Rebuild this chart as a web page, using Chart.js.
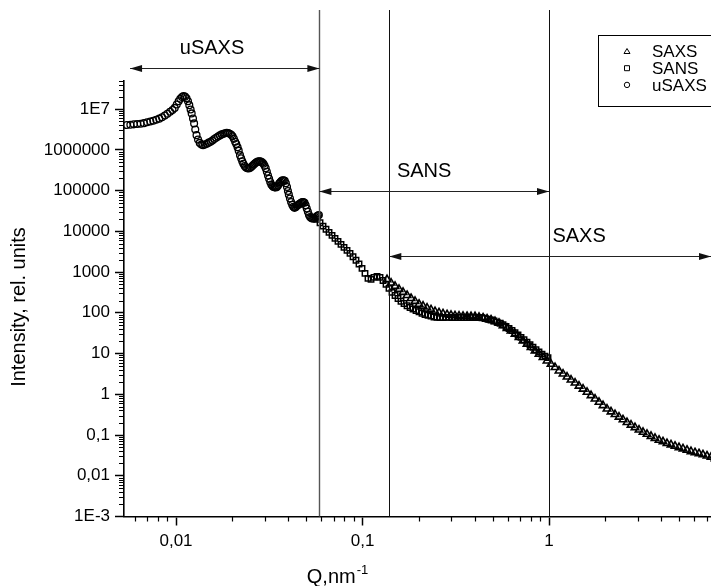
<!DOCTYPE html>
<html>
<head>
<meta charset="utf-8">
<script src="https://cdn.jsdelivr.net/npm/chart.js@4.4.0/dist/chart.umd.min.js"></script>
<style>
  html, body { margin: 0; padding: 0; background: #fff; overflow: hidden; }
  #wrap { width: 760px; height: 586px; }
</style>
</head>
<body>
<div id="wrap"><canvas id="c" width="760" height="586"></canvas></div>
<script>
// ---- data: scattering vector Q (nm^-1) and intensity (rel. units) ----
const usaxsQ = [0.00544,0.00569,0.00594,0.00619,0.00646,0.00673,0.00700,0.00728,0.00755,0.00783,0.00813,0.00841,0.00871,0.00899,0.00929,0.00957,0.00984,0.01009,0.01033,0.01054,0.01076,0.01096,0.01117,0.01138,0.01159,0.01178,0.01197,0.01213,0.01233,0.01250,0.01268,0.01288,0.01312,0.01340,0.01368,0.01396,0.01429,0.01462,0.01496,0.01531,0.01567,0.01603,0.01641,0.01679,0.01718,0.01758,0.01795,0.01832,0.01871,0.01905,0.01941,0.01977,0.02009,0.02042,0.02075,0.02104,0.02138,0.02168,0.02203,0.02234,0.02265,0.02296,0.02333,0.02371,0.02410,0.02449,0.02489,0.02529,0.02570,0.02612,0.02655,0.02698,0.02742,0.02786,0.02825,0.02864,0.02904,0.02944,0.02985,0.03027,0.03069,0.03112,0.03155,0.03199,0.03243,0.03289,0.03334,0.03381,0.03428,0.03475,0.03524,0.03573,0.03622,0.03673,0.03724,0.03776,0.03828,0.03882,0.03936,0.03981,0.04027,0.04083,0.04140,0.04198,0.04256,0.04315,0.04375,0.04436,0.04498,0.04560,0.04624,0.04688,0.04753,0.04819,0.04887,0.04955,0.05023,0.05093,0.05164,0.05236,0.05309,0.05383,0.05458,0.05534,0.05610,0.05689,0.05768,0.05834];
const usaxsI = [4.05e6,4.12e6,4.22e6,4.29e6,4.37e6,4.52e6,4.73e6,4.95e6,5.15e6,5.47e6,5.82e6,6.31e6,6.92e6,7.67e6,8.61e6,9.44e6,1.07e7,1.29e7,1.55e7,1.78e7,1.97e7,2.09e7,2.02e7,1.84e7,1.55e7,1.25e7,9.77e6,7.83e6,5.89e6,4.45e6,3.16e6,2.29e6,1.78e6,1.48e6,1.35e6,1.30e6,1.35e6,1.41e6,1.50e6,1.58e6,1.70e6,1.84e6,1.97e6,2.11e6,2.26e6,2.39e6,2.48e6,2.56e6,2.60e6,2.58e6,2.48e6,2.34e6,2.14e6,1.86e6,1.58e6,1.38e6,1.15e6,9.55e5,7.40e5,6.17e5,5.25e5,4.57e5,3.98e5,3.67e5,3.53e5,3.48e5,3.59e5,3.80e5,4.07e5,4.37e5,4.66e5,4.93e5,5.13e5,5.25e5,5.22e5,5.07e5,4.84e5,4.57e5,4.07e5,3.51e5,2.88e5,2.34e5,1.95e5,1.62e5,1.40e5,1.29e5,1.23e5,1.20e5,1.19e5,1.23e5,1.33e5,1.48e5,1.60e5,1.71e5,1.78e5,1.79e5,1.74e5,1.51e5,1.22e5,9.77e4,7.94e4,6.37e4,5.25e4,4.47e4,3.98e4,3.76e4,3.89e4,4.17e4,4.42e4,4.57e4,4.79e4,5.01e4,5.19e4,5.25e4,5.01e4,4.37e4,3.61e4,3.02e4,2.51e4,2.24e4,2.11e4,2.07e4,2.05e4,2.09e4,2.21e4,2.34e4,2.45e4,2.51e4];

const sansQ = [0.05702,0.05917,0.06141,0.06372,0.06613,0.06863,0.07120,0.07389,0.07668,0.07958,0.08258,0.08570,0.08894,0.09228,0.09576,0.09938,0.1031,0.1070,0.1111,0.1152,0.1196,0.1241,0.1288,0.1337,0.1387,0.1439,0.1494,0.1550,0.1608,0.1669,0.1733,0.1798,0.1865,0.1936,0.2009,0.2084,0.2163,0.2245,0.2330,0.2417,0.2508,0.2603,0.2702,0.2803,0.2909,0.3019,0.3133,0.3252,0.3374,0.3501,0.3634,0.3771,0.3913,0.4061,0.4214,0.4374,0.4538,0.4709,0.4887,0.5071,0.5263,0.5462,0.5667,0.5880,0.6103,0.6333,0.6572,0.6821,0.7077,0.7345,0.7621,0.7909,0.8207,0.8517,0.8838,0.9173,0.9519,0.9877];
const sansI = [1.97e4,1.62e4,1.34e4,1.12e4,9440,7960,6710,5680,4790,4040,3400,2870,2370,1950,1580,1230,927,698,659,738,782,738,622,497,396,316,266,225,192,169,149,135,124,114,106,97.7,90.8,86.9,83.0,78.9,77.0,76.6,76.8,77.2,76.9,76.5,76.7,77.1,76.8,76.4,76.6,76.9,76.5,76.2,76.0,75.3,72.4,69.6,66.5,62.8,59.0,55.2,50.7,46.0,41.1,36.7,32.4,28.4,24.9,21.8,18.9,16.4,14.3,12.4,10.9,9.70,8.66,7.96];

const saxsQ = [0.1353,0.1422,0.1494,0.1569,0.1649,0.1733,0.1820,0.1912,0.2009,0.2111,0.2218,0.2330,0.2448,0.2572,0.2702,0.2839,0.2982,0.3133,0.3292,0.3459,0.3634,0.3818,0.4011,0.4214,0.4428,0.4652,0.4887,0.5135,0.5394,0.5667,0.5954,0.6255,0.6572,0.6904,0.7254,0.7621,0.8007,0.8412,0.8838,0.9286,0.9756,1.025,1.077,1.131,1.189,1.249,1.312,1.379,1.448,1.522,1.599,1.680,1.765,1.854,1.948,2.046,2.150,2.259,2.373,2.493,2.619,2.752,2.891,3.038,3.192,3.353,3.523,3.701,3.889,4.086,4.292,4.510,4.738,4.978,5.230,5.494,5.772,6.065,6.372,6.694,7.033,7.389,7.763,8.156,8.569,9.003,9.460,9.938];
const saxsI = [659,543,449,378,319,269,227,192,164,147,132,119,108,101,95.1,90.4,87.7,85.3,83.4,83.0,82.0,81.5,81.1,78.4,75.3,71.1,67.3,61.4,55.8,48.7,41.8,36.1,30.1,24.9,20.6,17.1,14.2,11.7,9.70,8.05,6.64,5.51,4.57,3.77,3.16,2.67,2.25,1.90,1.60,1.35,1.13,0.935,0.771,0.640,0.531,0.438,0.374,0.321,0.277,0.238,0.204,0.176,0.153,0.134,0.118,0.105,0.0933,0.0834,0.0753,0.0687,0.0624,0.0577,0.0536,0.0495,0.0460,0.0428,0.0394,0.0371,0.0351,0.0331,0.0309,0.0287,0.0265,0.0249,0.0236,0.0223,0.0209,0.0199];

// ---- axis ticks ----
const xTickValues = [0.01, 0.1, 1];
const xTickLabels = ['0,01', '0,1', '1'];
const yTickValues = [1e-3, 1e-2, 1e-1, 1, 10, 100, 1e3, 1e4, 1e5, 1e6, 1e7];
const yTickLabels = ['1E-3', '0,01', '0,1', '1', '10', '100', '1000', '10000', '100000', '1000000', '1E7'];

// ---- measurement ranges of the three instruments ----
const rangeNames = ['uSAXS', 'SANS', 'SAXS'];
const rangeFrom = [0.00567, 0.0587, 0.1392];
const rangeTo = [0.0587, 1, 7.39];
const rangeLevel = [1.04e8, 1.0e5, 2.43e3];      // intensity at which each arrow is drawn
const rangeLabelQ = [0.0156, 0.214, 1.45];       // label centre along Q
const boundaries = [0.0587, 0.1392, 1];

const FONT = '"Liberation Sans", Arial, Helvetica, sans-serif';
const INK = '#000';

function pts(q, I) { return q.map((v, i) => ({ x: v, y: I[i] })); }

const overlay = {
  id: 'overlay',
  afterDraw(chart) {
    const ctx = chart.ctx;
    const xs = chart.scales.x, ys = chart.scales.y;
    const area = chart.chartArea;
    ctx.save();

    // minor ticks (2..9 within each decade)
    ctx.strokeStyle = INK;
    ctx.lineWidth = 1.2;
    ctx.beginPath();
    for (let e = -3; e <= 1; e++) {
      for (let m = 2; m <= 9; m++) {
        const v = m * Math.pow(10, e);
        if (v < xs.min || v > xs.max) continue;
        const px = Math.round(xs.getPixelForValue(v)) + 0.5;
        ctx.moveTo(px, area.bottom);
        ctx.lineTo(px, area.bottom + 5);
      }
    }
    for (let e = -3; e <= 7; e++) {
      for (let m = 2; m <= 9; m++) {
        const v = m * Math.pow(10, e);
        if (v < ys.min || v > ys.max) continue;
        const py = Math.round(ys.getPixelForValue(v)) + 0.5;
        ctx.moveTo(area.left, py);
        ctx.lineTo(area.left - 5, py);
      }
    }
    ctx.stroke();

    // range boundaries
    boundaries.forEach((q, i) => {
      const px = Math.round(xs.getPixelForValue(q)) + 0.5;
      ctx.strokeStyle = i === 0 ? '#555' : '#111';
      ctx.lineWidth = i === 0 ? 1.4 : 1;
      ctx.beginPath();
      ctx.moveTo(px, 10);
      ctx.lineTo(px, area.bottom);
      ctx.stroke();
    });

    // double-headed arrows with range names
    const head = (x, y, dir) => {
      ctx.beginPath();
      ctx.moveTo(x, y);
      ctx.lineTo(x + dir * 12, y - 3.5);
      ctx.lineTo(x + dir * 12, y + 3.5);
      ctx.closePath();
      ctx.fill();
    };
    ctx.fillStyle = '#111';
    ctx.strokeStyle = '#222';
    ctx.lineWidth = 1;
    ctx.font = '20px ' + FONT;
    ctx.textAlign = 'center';
    ctx.textBaseline = 'middle';
    rangeNames.forEach((name, i) => {
      const x1 = xs.getPixelForValue(rangeFrom[i]);
      const x2 = xs.getPixelForValue(rangeTo[i]);
      const y = Math.round(ys.getPixelForValue(rangeLevel[i])) + 0.5;
      ctx.beginPath();
      ctx.moveTo(x1, y);
      ctx.lineTo(x2, y);
      ctx.stroke();
      head(x1, y, 1);
      head(x2, y, -1);
      ctx.fillStyle = INK;
      ctx.fillText(name, xs.getPixelForValue(rangeLabelQ[i]), y - 20);
      ctx.fillStyle = '#111';
    });

    // legend box
    const lx = 598.5, ly = 35.5;
    ctx.strokeStyle = INK;
    ctx.lineWidth = 1;
    ctx.strokeRect(lx, ly, 140, 71);
    ctx.font = '17px ' + FONT;
    ctx.textAlign = 'left';
    chart.data.datasets.forEach((ds, i) => {
      const cy = 51.5 + i * 16.7;
      const cx = 627;
      ctx.beginPath();
      ctx.lineWidth = 1;
      if (ds.pointStyle === 'triangle') {
        ctx.moveTo(cx, cy - 3);
        ctx.lineTo(cx + 3, cy + 2);
        ctx.lineTo(cx - 3, cy + 2);
        ctx.closePath();
      } else if (ds.pointStyle === 'rect') {
        ctx.rect(cx - 2.5, cy - 2.5, 5, 5);
      } else {
        ctx.arc(cx, cy, 2.7, 0, Math.PI * 2);
      }
      ctx.stroke();
      ctx.fillStyle = INK;
      ctx.fillText(ds.label, 652, cy + 1);
    });

    // axis titles
    ctx.fillStyle = INK;
    ctx.font = '20px ' + FONT;
    ctx.textAlign = 'center';
    ctx.textBaseline = 'alphabetic';
    ctx.save();
    ctx.translate(25, 307);
    ctx.rotate(-Math.PI / 2);
    ctx.fillText('Intensity, rel. units', 0, 0);
    ctx.restore();

    const main = 'Q,nm', sup = '-1';
    ctx.font = '20px ' + FONT;
    const wMain = ctx.measureText(main).width;
    ctx.font = '13px ' + FONT;
    const wSup = ctx.measureText(sup).width;
    const startX = 337 - (wMain + wSup) / 2;
    ctx.textAlign = 'left';
    ctx.font = '20px ' + FONT;
    ctx.fillText(main, startX, 583);
    ctx.font = '13px ' + FONT;
    ctx.fillText(sup, startX + wMain + 1, 574);

    ctx.restore();
  }
};

const marker = { backgroundColor: 'rgba(0,0,0,0)', borderColor: '#000', showLine: false };

new Chart(document.getElementById('c'), {
  type: 'scatter',
  data: {
    datasets: [
      Object.assign({ label: 'SAXS', data: pts(saxsQ, saxsI), pointStyle: 'triangle', pointRadius: 4.3, borderWidth: 1.6 }, marker),
      Object.assign({ label: 'SANS', data: pts(sansQ, sansI), pointStyle: 'rect', pointRadius: 3.8, borderWidth: 1.5 }, marker),
      Object.assign({ label: 'uSAXS', data: pts(usaxsQ, usaxsI), pointStyle: 'circle', pointRadius: 3.4, borderWidth: 1.3 }, marker)
    ]
  },
  options: {
    responsive: false,
    animation: false,
    events: [],
    layout: { padding: { top: 80.6, right: 24.5, left: 0, bottom: 0 } },
    plugins: { legend: { display: false }, tooltip: { enabled: false } },
    scales: {
      x: {
        type: 'logarithmic',
        position: 'bottom',
        min: 0.00526,
        max: 10,
        afterBuildTicks: s => { s.ticks = xTickValues.map(v => ({ value: v })); },
        afterFit: s => { s.height = 69.5; },
        ticks: {
          callback: (v, i) => xTickLabels[i],
          autoSkip: false, maxRotation: 0, padding: 6,
          color: INK, font: { family: FONT, size: 17 }
        },
        grid: { display: true, drawOnChartArea: false, drawTicks: true, tickLength: 9, tickWidth: 1.5, tickColor: INK },
        border: { display: true, color: INK, width: 1.6 }
      },
      y: {
        type: 'logarithmic',
        position: 'left',
        min: 1e-3,
        max: 5e7,
        afterBuildTicks: s => { s.ticks = yTickValues.map(v => ({ value: v })); },
        afterFit: s => { s.width = 124; },
        ticks: {
          callback: (v, i) => yTickLabels[i],
          autoSkip: false, padding: 5,
          color: INK, font: { family: FONT, size: 17 }
        },
        grid: { display: true, drawOnChartArea: false, drawTicks: true, tickLength: 9, tickWidth: 1.5, tickColor: INK },
        border: { display: true, color: INK, width: 1.6 }
      }
    }
  },
  plugins: [overlay]
});
</script>
</body>
</html>
